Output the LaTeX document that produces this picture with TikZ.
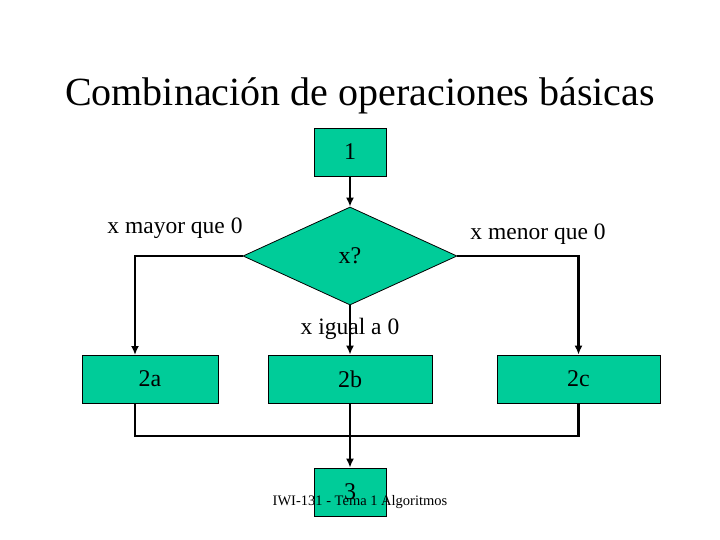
\documentclass[tikz,border=0pt]{standalone}
\usepackage{fontspec}
\setmainfont{Liberation Serif}
\usepackage{tikz}
\usetikzlibrary{arrows.meta,positioning,shapes.geometric}
\definecolor{Teal}{HTML}{00CC99}
\definecolor{Ink}{HTML}{000000}

\begin{document}
\begin{tikzpicture}[
  x=1pt,y=-1pt,
  blk/.style={draw=Ink,fill=Teal,line width=0.8pt,minimum height=48pt,inner sep=0pt,font=\fontsize{24}{26}\selectfont},
  cond/.style={diamond,draw=Ink,fill=Teal,line width=0.8pt,aspect=2.18,minimum width=214pt,minimum height=98pt,inner sep=0pt,font=\fontsize{24}{26}\selectfont},
  lbl/.style={font=\fontsize{23.5}{26}\selectfont,inner sep=0pt},
  wire/.style={line width=2.2pt,draw=Ink},
  arrow/.style={wire,-{Latex[length=9pt,width=8pt]}}
]
\useasboundingbox (0,0) rectangle (720,540);
\node[font=\fontsize{40}{44}\selectfont] (title) at (360,96) {Combinación de operaciones básicas};
% blocks
\node[blk,minimum width=72pt] (n1) at (350,152) {1};
\node[cond] (q) at (350,256) {x?};
\node[blk,minimum width=136pt] (b2a) at (150,379) {2a};
\node[blk,minimum width=164pt] (b2b) at (350,379) {2b};
\node[blk,minimum width=163pt] (b2c) at (578.5,379) {2c};
\node[blk,minimum width=72pt] (n3) at (350,492) {3};
\coordinate (ina) at (135,355);
\coordinate (outa) at (135,403);
\coordinate (join) at (350,436);
% labels
\node[lbl] (lmayor) at (175,228) {x mayor que 0};
\node[lbl] (lmenor) at (538,234) {x menor que 0};
\node[lbl] (ligual) at (350,329) {x igual a 0};
% connectors
\draw[arrow] (n1) -- (q);
\draw[arrow] (q.west) -| (ina);
\draw[arrow] (q.east) -| (b2c);
\draw[arrow] (q) -- (b2b);
\draw[wire] (outa) |- (join) -| (b2c);
\draw[arrow] (b2b) -- (n3);
\node[font=\fontsize{14.5}{16}\selectfont,inner sep=0pt] (foot) at (360,502) {IWI-131 - Tema 1 Algoritmos};
\end{tikzpicture}
\end{document}
